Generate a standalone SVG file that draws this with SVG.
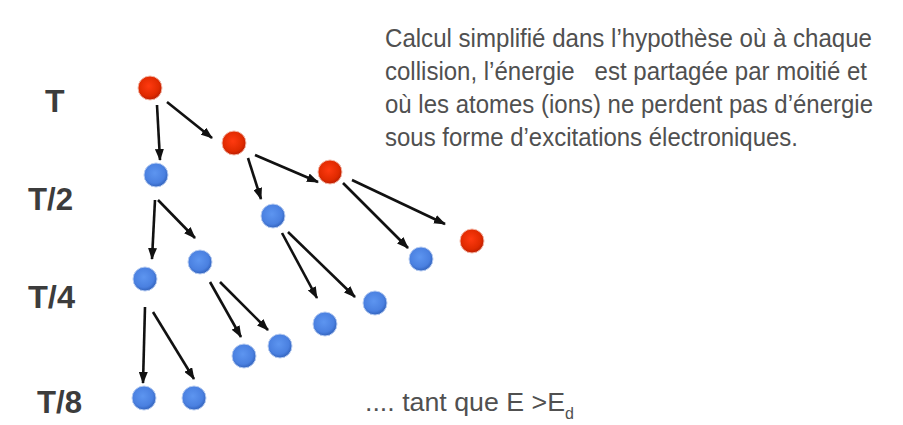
<svg xmlns="http://www.w3.org/2000/svg" width="903" height="425" viewBox="0 0 903 425">
<defs>
<radialGradient id="gr" cx="0.45" cy="0.42" r="0.6">
<stop offset="0" stop-color="#ff3a10"/>
<stop offset="0.7" stop-color="#e02a00"/>
<stop offset="1" stop-color="#b81c00"/>
</radialGradient>
<radialGradient id="gb" cx="0.45" cy="0.42" r="0.6">
<stop offset="0" stop-color="#5d95f0"/>
<stop offset="0.7" stop-color="#4a80e0"/>
<stop offset="1" stop-color="#2f5fb8"/>
</radialGradient>
<marker id="ah" markerWidth="12" markerHeight="9" refX="11" refY="4.5" orient="auto" markerUnits="userSpaceOnUse">
<path d="M0,0 L12,4.5 L0,9 Z" fill="#111"/>
</marker>
</defs>
<style>
.red{fill:url(#gr);stroke:#f4b8a8;stroke-width:1}
.blue{fill:url(#gb);stroke:#b8cdf2;stroke-width:1}
.lvl{font-family:"Liberation Sans",Arial,sans-serif;font-weight:bold;font-size:32px;fill:#3c3c3c}
.txt{font-family:"Liberation Sans",Arial,sans-serif;font-size:25px;fill:#505050;white-space:pre}
#connectors line{stroke:#111;stroke-width:2.6;marker-end:url(#ah)}
</style>
<rect width="903" height="425" fill="#fff"/>
<g id="labels">
<text class="lvl" x="45" y="112">T</text>
<text class="lvl" x="28" y="210" textLength="45" lengthAdjust="spacingAndGlyphs">T/2</text>
<text class="lvl" x="28" y="308" textLength="47" lengthAdjust="spacingAndGlyphs">T/4</text>
<text class="lvl" x="37" y="413" textLength="45" lengthAdjust="spacingAndGlyphs">T/8</text>
</g>
<g id="description">
<text class="txt" x="385" y="47" textLength="487" lengthAdjust="spacingAndGlyphs">Calcul simplifié dans l’hypothèse où à chaque</text>
<text class="txt" x="385" y="80" textLength="482" lengthAdjust="spacingAndGlyphs" xml:space="preserve">collision, l’énergie   est partagée par moitié et</text>
<text class="txt" x="385" y="113" textLength="488" lengthAdjust="spacingAndGlyphs">où les atomes (ions) ne perdent pas d’énergie</text>
<text class="txt" x="385" y="146" textLength="413" lengthAdjust="spacingAndGlyphs">sous forme d’excitations électroniques.</text>
</g>
<g id="condition">
<text class="txt" x="365" y="411"><tspan textLength="200" lengthAdjust="spacingAndGlyphs">.... tant que E &gt;E</tspan><tspan font-size="16" dy="8">d</tspan></text>
</g>
<g id="connectors">
<line x1="157" y1="105" x2="160" y2="160"/>
<line x1="167" y1="102" x2="212" y2="138"/>
<line x1="248" y1="158" x2="261" y2="199"/>
<line x1="255" y1="155" x2="318" y2="182"/>
<line x1="343" y1="183" x2="408" y2="248"/>
<line x1="352" y1="180" x2="445" y2="224"/>
<line x1="155" y1="200" x2="152" y2="259"/>
<line x1="158" y1="200" x2="195" y2="238"/>
<line x1="210" y1="282" x2="241" y2="337"/>
<line x1="220" y1="282" x2="268" y2="330"/>
<line x1="145" y1="307" x2="143" y2="383"/>
<line x1="153" y1="312" x2="194" y2="379"/>
<line x1="282" y1="233" x2="317" y2="298"/>
<line x1="288" y1="232" x2="355" y2="297"/>
</g>
<g id="r1"><circle class="red" cx="150" cy="88" r="12"/></g>
<g id="r2"><circle class="red" cx="234" cy="143" r="12"/></g>
<g id="r3"><circle class="red" cx="330" cy="172" r="12"/></g>
<g id="r4"><circle class="red" cx="472" cy="241" r="12"/></g>
<g id="b1"><circle class="blue" cx="156" cy="175" r="12"/></g>
<g id="b2"><circle class="blue" cx="273" cy="216" r="12"/></g>
<g id="b3"><circle class="blue" cx="145" cy="279" r="12"/></g>
<g id="b4"><circle class="blue" cx="200" cy="262" r="12"/></g>
<g id="b5"><circle class="blue" cx="421" cy="259" r="12"/></g>
<g id="b6"><circle class="blue" cx="325" cy="324" r="12"/></g>
<g id="b7"><circle class="blue" cx="375" cy="303" r="12"/></g>
<g id="b8"><circle class="blue" cx="244" cy="356" r="12"/></g>
<g id="b9"><circle class="blue" cx="280" cy="346" r="12"/></g>
<g id="b10"><circle class="blue" cx="144" cy="398" r="12"/></g>
<g id="b11"><circle class="blue" cx="194" cy="398" r="12"/></g>
</svg>
